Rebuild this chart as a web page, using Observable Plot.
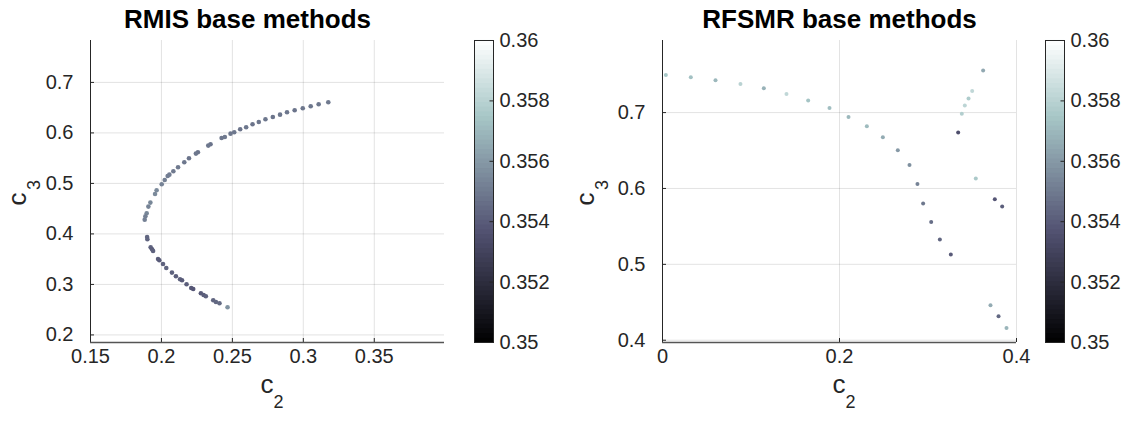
<!DOCTYPE html>
<html><head><meta charset="utf-8">
<script src="https://cdn.jsdelivr.net/npm/d3@7"></script>
<script src="https://cdn.jsdelivr.net/npm/@observablehq/plot@0.6"></script>
<style>
body{margin:0;background:#fff;}
#root{position:relative;width:1131px;height:421px;background:#fff;}
#root svg{position:absolute;top:0;}
</style></head><body><div id="root"></div>
<script>
// ---------- data ----------
const rmisC2 = [0.3176,0.3108,0.3052,0.2996,0.2939,0.2885,0.2836,0.2785,0.2733,0.2686,0.2642,0.2597,0.2555,0.2513,0.2487,0.2447,0.2424,0.2346,0.2330,0.2257,0.2243,0.2194,0.2161,0.2117,0.2084,0.2056,0.2044,0.2023,0.2002,0.1966,0.1955,0.1922,0.1908,0.1896,0.1887,0.1882,
  0.1899,0.1901,0.1924,0.1934,0.1941,0.1976,0.1985,0.2011,0.2034,0.2074,0.2102,0.2131,0.2145,0.2177,0.2210,0.2224,0.2278,0.2297,0.2313,0.2365,0.2384,0.2409,0.2466];
const rmisC3 = [0.6607,0.6567,0.6527,0.6488,0.6448,0.6409,0.6362,0.6316,0.6270,0.6217,0.6171,0.6111,0.6072,0.6012,0.5986,0.5920,0.5900,0.5775,0.5749,0.5616,0.5590,0.5498,0.5418,0.5319,0.5240,0.5174,0.5148,0.5069,0.4983,0.4864,0.4791,0.4620,0.4541,0.4409,0.4349,0.4283,
  0.3940,0.3894,0.3735,0.3696,0.3663,0.3504,0.3478,0.3405,0.3326,0.3234,0.3161,0.3102,0.3082,0.3003,0.2930,0.2910,0.2824,0.2791,0.2765,0.2686,0.2653,0.2626,0.2547];
const rmisVal = [0.3550,0.3549,0.3549,0.3549,0.3548,0.3549,0.3549,0.3548,0.3549,0.3549,0.3548,0.3549,0.3548,0.3549,0.3549,0.3550,0.3549,0.3548,0.3549,0.3548,0.3549,0.3548,0.3549,0.3550,0.3550,0.3551,0.3551,0.3552,0.3553,0.3555,0.3555,0.3554,0.3553,0.3554,0.3552,0.3552,
  0.3544,0.3543,0.3542,0.3541,0.3542,0.3541,0.3540,0.3542,0.3543,0.3542,0.3541,0.3542,0.3540,0.3541,0.3539,0.3538,0.3540,0.3541,0.3542,0.3543,0.3544,0.3545,0.3558];

const rfsmrC2 = [0.0038,0.0320,0.0599,0.0881,0.1145,0.1401,0.1646,0.1887,0.2102,
  0.2309,0.2490,0.2659,0.2791,0.2881,0.2945,0.3036,0.3134,0.3258,
  0.3341,0.3382,0.3416,0.3458,0.3499,0.3623,
  0.3540,0.3755,0.3838,0.3706,0.3797,0.3887];
const rfsmrC3 = [0.7496,0.7465,0.7426,0.7377,0.7320,0.7245,0.7158,0.7061,0.6942,
  0.6820,0.6675,0.6503,0.6310,0.6060,0.5801,0.5559,0.5326,0.5129,
  0.6736,0.6986,0.7092,0.7184,0.7285,0.7553,
  0.6130,0.5858,0.5761,0.4461,0.4316,0.4162];
const rfsmrVal = [0.3575,0.3573,0.3570,0.3580,0.3568,0.3582,0.3574,0.3572,0.3570,
  0.3571,0.3566,0.3560,0.3557,0.3553,0.3549,0.3546,0.3543,0.3540,
  0.3535,0.3578,0.3581,0.3577,0.3582,0.3565,
  0.3576,0.3538,0.3541,0.3566,0.3544,0.3569];

const colorDomain = [0.35, 0.36];
const cbTicks = [0.35, 0.352, 0.354, 0.356, 0.358, 0.36];
const leftXTicks = [0.15, 0.2, 0.25, 0.3, 0.35];
const leftYTicks = [0.2, 0.3, 0.4, 0.5, 0.6, 0.7];
const rightXTicks = [0, 0.2, 0.4];
const rightYTicks = [0.4, 0.5, 0.6, 0.7];
const titles = ["RMIS base methods", "RFSMR base methods"];

// ---------- MATLAB "bone" colormap ----------
function bone(t) {
  const hr = Math.min(1, t / 0.375);
  const hg = Math.max(0, Math.min(1, (t - 0.375) / 0.375));
  const hb = Math.max(0, Math.min(1, (t - 0.75) / 0.25));
  return d3.rgb(255 * (7 * t + hb) / 8, 255 * (7 * t + hg) / 8, 255 * (7 * t + hr) / 8).toString();
}

const FONT = "'Liberation Sans', Arial, Helvetica, sans-serif";
const INK = "#262626";
const H = 421, MT = 40, MB = 79;

function panel({c2, c3, v, xDomain, yDomain, xTicks, yTicks, xGrid, title, titleDx, r, ml, left, ylabShift}) {
  const data = c2.map((d, i) => ({c2: d, c3: c3[i], v: v[i]}));
  const fw = 354, mr = 15;
  const plot = Plot.plot({
    width: ml + fw + mr, height: H,
    marginLeft: ml, marginRight: mr, marginTop: MT, marginBottom: MB,
    x: {domain: xDomain, label: null},
    y: {domain: yDomain, label: null},
    color: {type: "linear", domain: colorDomain, interpolate: bone},
    style: {fontFamily: FONT, fontSize: "20px", color: INK, background: "none", overflow: "visible"},
    marks: [
      Plot.gridX(xGrid, {stroke: INK, strokeOpacity: 0.13}),
      Plot.gridY(yTicks, {stroke: INK, strokeOpacity: 0.13}),
      Plot.tickX(xTicks, {x: d => d, insetTop: H - MT - MB - 4, stroke: INK}),
      Plot.tickY(yTicks, {y: d => d, insetRight: fw - 4, stroke: INK}),
      Plot.axisX(xTicks, {tickSize: 0, tickPadding: 6, tickFormat: d => String(d), fontSize: 20, fill: INK, label: null}),
      Plot.axisY(yTicks, {tickSize: 0, tickPadding: 17, tickFormat: d => String(d), fontSize: 20, fill: INK, label: null}),
      Plot.ruleX([xDomain[0]], {stroke: INK}),
      Plot.ruleY([yDomain[0]], {stroke: "#555", strokeWidth: 1.4}),
      Plot.dot(data, {x: "c2", y: "c3", fill: "v", r}),
      Plot.text([title], {frameAnchor: "top", dx: titleDx, dy: -21, fontSize: 26, fontWeight: "bold", fill: "#000", lineAnchor: "middle"}),
      Plot.text(["c"], {frameAnchor: "bottom", textAnchor: "start", dx: -7, dy: 41.7, fontSize: 26, fill: INK, lineAnchor: "middle"}),
      Plot.text(["2"], {frameAnchor: "bottom", textAnchor: "start", dx: 6, dy: 60, fontSize: 18, fill: INK, lineAnchor: "middle"}),
      Plot.text(["c"], {frameAnchor: "left", rotate: -90, textAnchor: "start", dx: -77.3 + ylabShift, dy: 14, fontSize: 26, fill: INK, lineAnchor: "middle"}),
      Plot.text(["3"], {frameAnchor: "left", rotate: -90, textAnchor: "start", dx: -59.8 + ylabShift, dy: -1.5, fontSize: 18, fill: INK, lineAnchor: "middle"})
    ]
  });
  plot.style.left = (left - ml) + "px";
  return plot;
}

function colorbar(frameLeft) {
  const n = 64;
  const bands = d3.range(n).map(i => ({y1: colorDomain[0] + i * (colorDomain[1] - colorDomain[0]) / n,
                                      y2: colorDomain[0] + (i + 1) * (colorDomain[1] - colorDomain[0]) / n}));
  const fw = 19, ml = 1, mr = 70;
  const plot = Plot.plot({
    width: ml + fw + mr, height: H,
    marginLeft: ml, marginRight: mr, marginTop: MT, marginBottom: MB,
    x: {domain: [0, 1], axis: null},
    y: {domain: colorDomain, label: null},
    color: {type: "linear", domain: colorDomain, interpolate: bone},
    style: {fontFamily: FONT, fontSize: "20px", color: INK, background: "none", overflow: "visible"},
    marks: [
      Plot.rect(bands, {x1: 0, x2: 1, y1: "y1", y2: "y2", insetTop: -0.6, insetBottom: -0.6, fill: d => (d.y1 + d.y2) / 2}),
      Plot.tickY(cbTicks, {y: d => d, insetLeft: fw - 3.5, stroke: INK}),
      Plot.axisY(cbTicks, {anchor: "right", tickSize: 0, tickPadding: 6, tickFormat: d => String(+d.toFixed(3)), fontSize: 20, fill: INK, label: null}),
      Plot.frame({stroke: INK, strokeWidth: 1})
    ]
  });
  plot.style.left = (frameLeft - ml) + "px";
  return plot;
}

const root = document.getElementById("root");
root.append(panel({c2: rmisC2, c3: rmisC3, v: rmisVal, xDomain: [0.15, 0.3995], yDomain: [0.185, 0.783],
  xTicks: leftXTicks, yTicks: leftYTicks, xGrid: leftXTicks, title: titles[0], titleDx: -20, r: 2.3, ml: 110, left: 90, ylabShift: 4}));
root.append(colorbar(474));
root.append(panel({c2: rfsmrC2, c3: rfsmrC3, v: rfsmrVal, xDomain: [0, 0.4], yDomain: [0.397, 0.795],
  xTicks: rightXTicks, yTicks: rightYTicks, xGrid: rightXTicks, title: titles[1], titleDx: 0, r: 2, ml: 110, left: 662, ylabShift: 0}));
root.append(colorbar(1045));
</script></body></html>
